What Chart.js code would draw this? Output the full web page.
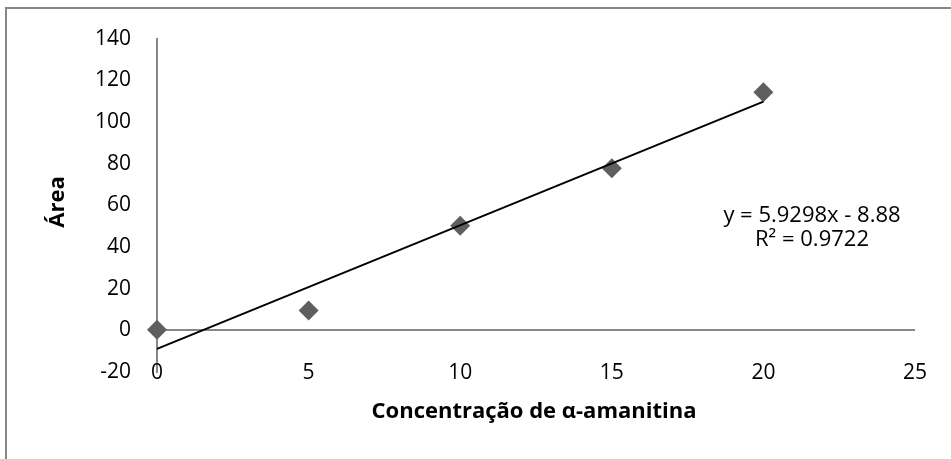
<!DOCTYPE html>
<html>
<head>
<meta charset="utf-8">
<script src="https://cdn.jsdelivr.net/npm/chart.js@4"></script>
<style>
  html, body { margin: 0; padding: 0; background: #fff; }
  #wrap { width: 951px; height: 459px; position: relative; }
</style>
</head>
<body>
<div id="wrap"><canvas id="chart"></canvas></div>
<script>
// Data
const concentracoes = [0, 5, 10, 15, 20];
const areas = [0.3, 9.5, 50.2, 77.8, 114.3];

// Linear trendline y = 5.9298x - 8.88, endpoints at x = 0 and x = 20
const trendX = [0, 20];
const trendY = [-8.88, 109.72];

const xTicks = [0, 5, 10, 15, 20, 25];
const yTicks = [-20, 0, 20, 40, 60, 80, 100, 120, 140];

const xTitle = 'Concentração de α-amanitina';
const yTitle = 'Área';
const equation = ['y = 5.9298x - 8.88', 'R² = 0.9722'];

Chart.defaults.font.family = 'Open Sans';
Chart.defaults.font.size = 21;
Chart.defaults.color = '#000';

const axisGray = '#878787';

// frame, x tick labels (Excel puts them level with the lowest y tick), titles, trendline label
const textPlugin = {
  id: 'texts',
  beforeDraw(chart) {
    const ctx = chart.ctx;
    ctx.save();
    ctx.fillStyle = '#fff';
    ctx.fillRect(0, 0, chart.width, chart.height);
    ctx.strokeStyle = axisGray;
    ctx.lineWidth = 2;
    ctx.beginPath();
    ctx.moveTo(6, chart.height);
    ctx.lineTo(6, 8);
    ctx.lineTo(chart.width, 8);
    ctx.stroke();
    ctx.restore();
  },
  afterDraw(chart) {
    const ctx = chart.ctx;
    const xs = chart.scales.x;
    const ys = chart.scales.y;
    ctx.save();
    ctx.fillStyle = '#000';
    ctx.textAlign = 'center';
    ctx.textBaseline = 'middle';

    ctx.font = '21px "Open Sans"';
    const labelY = ys.getPixelForValue(yTicks[0]) + 1;
    xTicks.forEach(v => {
      ctx.fillText(String(v), xs.getPixelForValue(v), labelY);
    });

    ctx.font = 'bold 22px "Open Sans"';
    ctx.fillText(xTitle, 534, 412);

    ctx.save();
    ctx.translate(58, 202);
    ctx.rotate(-Math.PI / 2);
    ctx.fillText(yTitle, 0, 0);
    ctx.restore();

    ctx.font = '22px "Open Sans"';
    ctx.fillText(equation[0], 812, 216);
    ctx.fillText(equation[1], 812, 240);
    ctx.restore();
  }
};

new Chart(document.getElementById('chart'), {
  type: 'scatter',
  data: {
    datasets: [
      {
        label: 'Tendência',
        type: 'line',
        data: trendX.map((x, i) => ({ x: x, y: trendY[i] })),
        borderColor: '#000',
        borderWidth: 2,
        pointRadius: 0,
        fill: false,
        clip: false,
        order: 0
      },
      {
        label: 'Área',
        data: concentracoes.map((x, i) => ({ x: x, y: areas[i] })),
        pointStyle: 'rectRot',
        pointRadius: 10,
        backgroundColor: '#5f5f5f',
        borderColor: '#5f5f5f',
        borderWidth: 0,
        clip: false,
        order: 1
      }
    ]
  },
  options: {
    responsive: true,
    maintainAspectRatio: false,
    animation: false,
    events: [],
    layout: { padding: { top: 38, right: 36, left: 0, bottom: 0 } },
    plugins: {
      legend: { display: false },
      tooltip: { enabled: false }
    },
    scales: {
      x: {
        type: 'linear',
        min: 0,
        max: 25,
        afterFit: s => { s.height = 87; },
        afterBuildTicks: s => { s.ticks = xTicks.map(v => ({ value: v })); },
        grid: { display: false, drawTicks: false },
        border: { display: false },
        ticks: { display: false }
      },
      y: {
        min: -20,
        max: 140,
        afterFit: s => { s.width = 157; },
        afterBuildTicks: s => { s.ticks = yTicks.map(v => ({ value: v })); },
        grid: {
          drawTicks: false,
          lineWidth: 2,
          color: c => (c.tick && c.tick.value === 0 ? axisGray : 'rgba(0,0,0,0)')
        },
        border: { display: true, color: axisGray, width: 2 },
        ticks: { padding: 26, color: '#000' }
      }
    }
  },
  plugins: [textPlugin]
});
</script>
</body>
</html>
